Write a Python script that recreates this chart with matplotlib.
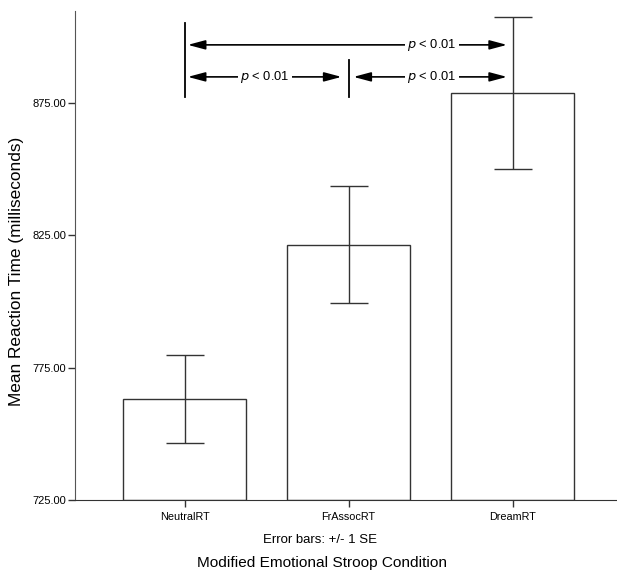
import matplotlib
matplotlib.use("Agg")
import matplotlib.pyplot as plt

plt.rcParams['font.family'] = ['Liberation Sans', 'DejaVu Sans']

categories = ["NeutralRT", "FrAssocRT", "DreamRT"]
means = [763.2, 821.4, 878.8]
se = [16.5, 22.1, 28.7]
yticks = [725.0, 775.0, 825.0, 875.0]
p_label = "< 0.01"

W, H = 617, 575
fig = plt.figure(figsize=(W / 100, H / 100), dpi=100)
ax = fig.add_axes([75 / W, 1 - 500 / H, 1 - 75 / W, (500 - 11) / H])

x = list(range(len(categories)))
ax.bar(x, [m - 725 for m in means], bottom=725, width=0.75, color="white",
       edgecolor="#333333", linewidth=1.0, zorder=2)
ax.errorbar(x, means, yerr=se, fmt="none", ecolor="#333333", elinewidth=1.0,
            capsize=13.5, capthick=1.0, zorder=3)

ax.set_xlim(-0.668, 2.637)
ax.set_ylim(725, 909.8)
ax.set_yticks(yticks)
ax.set_yticklabels([f"{v:.2f}" for v in yticks], fontsize=8)
ax.set_xticks(x)
ax.set_xticklabels(categories, fontsize=7.8)
ax.tick_params(axis="both", direction="out", length=5, width=1.0, color="#333333")
ax.tick_params(axis="x", pad=4)
ax.tick_params(axis="y", pad=1.5)
for s in ["top", "right"]:
    ax.spines[s].set_visible(False)
ax.spines["left"].set_color("#555555")
ax.spines["bottom"].set_color("#333333")

# significance annotations
lw = 1.3
ax.plot([0, 0], [877.3, 905.3], color="black", lw=lw, clip_on=False)
ax.plot([1, 1], [877.3, 891.3], color="black", lw=lw, clip_on=False)
arrow = dict(arrowstyle="<|-|>,head_length=0.75,head_width=0.2", color="black",
             lw=1.2, mutation_scale=14, shrinkA=0, shrinkB=0)
def sig(x0, x1, y, xt):
    ax.annotate("", xy=(x1, y), xytext=(x0, y), arrowprops=arrow,
                annotation_clip=False)
    ax.text(xt, y, r"$\it{p}$ " + p_label, ha="center", va="center", fontsize=9.3,
            bbox=dict(boxstyle="square,pad=0.15", fc="white", ec="none"), zorder=5)

sig(0.02, 1.966, 897.0, (432 - 184.5) / 164)
sig(0.02, 0.957, 884.9, (265 - 184.5) / 164)
sig(1.03, 1.966, 884.9, (432 - 184.5) / 164)

fig.text(17 / W, 1 - 271 / H, "Mean Reaction Time (milliseconds)", rotation=90,
         ha="center", va="center", fontsize=12.4)
fig.text(320 / W, 1 - 540 / H, "Error bars: +/- 1 SE", ha="center", va="center", fontsize=9.5)
fig.text(322 / W, 1 - 563 / H, "Modified Emotional Stroop Condition", ha="center",
         va="center", fontsize=11.1)

fig.savefig("out.png", dpi=100)
